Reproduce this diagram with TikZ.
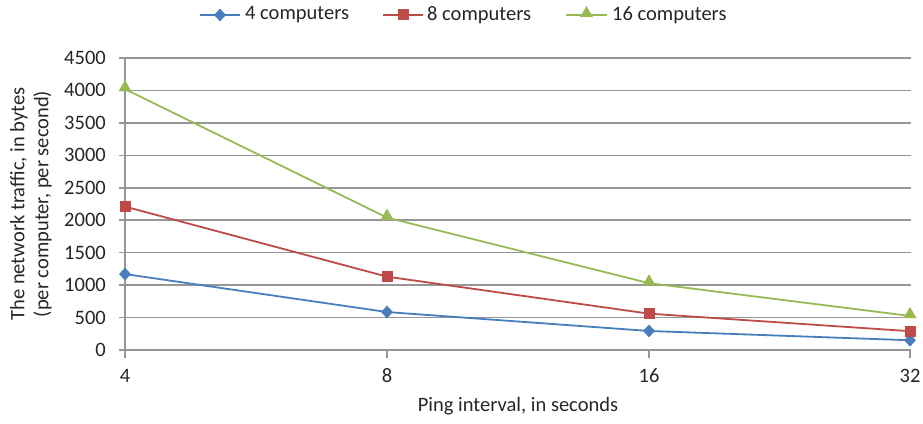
\documentclass[tikz,border=0pt]{standalone}
\usepackage{fontspec}
\setmainfont{Carlito}
\usetikzlibrary{shapes.geometric,calc}
\definecolor{gridgray}{RGB}{150,150,150}
\definecolor{sblue}{RGB}{74,126,187}
\definecolor{sred}{RGB}{190,75,72}
\definecolor{sgreen}{RGB}{152,185,84}
\tikzset{
  lbl/.style={font=\fontsize{20.5}{24}\selectfont, text=black!85, inner sep=0pt},
  gridline/.style={draw=gridgray, line width=1.6pt},
  series/.style={line width=1.8pt},
  mdiamond/.style={diamond, fill=sblue, minimum width=12pt, minimum height=13pt, inner sep=0pt},
  msquare/.style={rectangle, fill=sred, minimum size=11pt, inner sep=0pt},
  mtriangle/.style={regular polygon, regular polygon sides=3, fill=sgreen, minimum size=15pt, inner sep=0pt},
}
\begin{document}
\begin{tikzpicture}[x=1pt, y=1pt]
\useasboundingbox (0,0) rectangle (923,423);
% value v maps to height 73 + v*292/4500
\def\ys{0.064889}
% horizontal grid lines and value labels
\foreach \v in {500,1000,...,4500} {
  \draw[gridline] (119,{73+\v*\ys}) -- (911,{73+\v*\ys});
  \node[lbl, anchor=east] at (106,{73+\v*\ys}) {\v};
}
\node[lbl, anchor=east] at (106,73) {0};
% axes
\draw[gridline] (119,73) -- (911,73);
\draw[gridline] (125,73) -- (125,{73+4500*\ys});
% category ticks and labels
\foreach \x/\t in {125/4, 387/8, 649/16, 910/32} {
  \draw[gridline] (\x,73) -- (\x,65);
  \node[lbl] at (\x,47) {\t};
}
% axis titles
\node[lbl] (xtitle) at (518,17) {Ping interval, in seconds};
\node[lbl, rotate=90, align=center] (ytitle) at (31,219) {The network traffic, in bytes\\(per computer, per second)};
% data points
\coordinate (a1) at (125,{73+1170*\ys});
\coordinate (a2) at (387,{73+585*\ys});
\coordinate (a3) at (649,{73+293*\ys});
\coordinate (a4) at (910,{73+150*\ys});
\coordinate (b1) at (125,{73+2210*\ys});
\coordinate (b2) at (387,{73+1130*\ys});
\coordinate (b3) at (649,{73+560*\ys});
\coordinate (b4) at (910,{73+290*\ys});
\coordinate (c1) at (125,{73+4020*\ys});
\coordinate (c2) at (387,{73+2040*\ys});
\coordinate (c3) at (649,{73+1030*\ys});
\coordinate (c4) at (910,{73+525*\ys});
% series lines
\draw[series, sblue] (a1) -- (a2) -- (a3) -- (a4);
\draw[series, sred] (b1) -- (b2) -- (b3) -- (b4);
\draw[series, sgreen] (c1) -- (c2) -- (c3) -- (c4);
% markers
\foreach \i in {1,...,4} {
  \node[mdiamond] at (a\i) {};
  \node[msquare] at (b\i) {};
  \node[mtriangle, yshift=1.5pt] at (c\i) {};
}
% legend
\coordinate (la1) at (200,408); \coordinate (la2) at (240,408);
\coordinate (lb1) at (383,408); \coordinate (lb2) at (423,408);
\coordinate (lc1) at (566,408); \coordinate (lc2) at (607,408);
\draw[series, sblue] (la1) -- (la2);
\node[mdiamond] at ($(la1)!0.5!(la2)$) {};
\draw[series, sred] (lb1) -- (lb2);
\node[msquare] at ($(lb1)!0.5!(lb2)$) {};
\draw[series, sgreen] (lc1) -- (lc2);
\node[mtriangle, yshift=1.5pt] at ($(lc1)!0.5!(lc2)$) {};
\node[lbl, anchor=west] (la) at (245,408) {4 computers};
\node[lbl, anchor=west] (lb) at (427,408) {8 computers};
\node[lbl, anchor=west] (lc) at (612,408) {16 computers};
\end{tikzpicture}
\end{document}
